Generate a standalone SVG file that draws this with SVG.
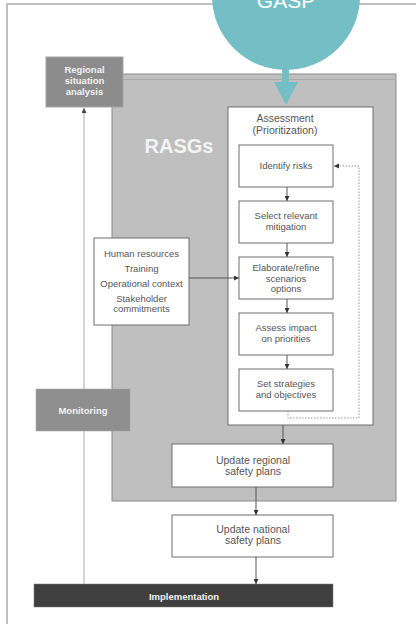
<svg xmlns="http://www.w3.org/2000/svg" width="416" height="624" viewBox="0 0 416 624">
<defs>
<marker id="ah" viewBox="0 0 10 10" refX="10" refY="5" markerWidth="5" markerHeight="5" orient="auto" markerUnits="userSpaceOnUse"><path d="M0,0 L10,5 L0,10 z" fill="#333"/></marker>
<marker id="ahg" viewBox="0 0 10 10" refX="10" refY="5" markerWidth="5" markerHeight="5" orient="auto" markerUnits="userSpaceOnUse"><path d="M0,0 L10,5 L0,10 z" fill="#444"/></marker>
</defs>
<style>
text{font-family:"Liberation Sans",Arial,sans-serif;text-anchor:middle}
.box{fill:#fff;stroke:#6e6e6e;stroke-width:1}
.t{font-size:9.5px;fill:#555}
.tl{font-size:10.5px;fill:#555}
.w{font-size:9.5px;fill:#f2f2f2;font-weight:bold}
.c{stroke:#555;stroke-width:1;fill:none}
.d{stroke:#999;stroke-width:1;fill:none;stroke-dasharray:1.5 1.5}
</style>
<rect width="416" height="624" fill="#fff"/>
<g id="frame"><path d="M7,624 V4 H416" fill="none" stroke="#aaa" stroke-width="1.5"/></g>
<g id="rasgs"><rect x="112" y="74" width="284" height="427" fill="#bfbfc0" stroke="#8a8a8a" stroke-width="1"/><line x1="123" y1="79.5" x2="396" y2="79.5" stroke="#a9a9aa" stroke-width="1"/><text x="179" y="153" font-size="20" font-weight="bold" fill="#f4f4f4">RASGs</text></g>
<g id="assessment"><rect class="box" x="228" y="107" width="145" height="318"/><text class="tl" x="285" y="122">Assessment</text><text class="tl" x="285" y="134">(Prioritization)</text></g>
<g id="feedback"><path class="d" d="M288,411 V418 H359 V166 H334"/><path d="M334,166 l5,-2.5 v5 z" fill="#333"/></g>
<g id="identify"><rect class="box" x="239" y="145" width="94" height="42"/><text class="t" x="286" y="169">Identify risks</text></g>
<g id="select"><rect class="box" x="239" y="201" width="94" height="42"/><text class="t" x="286" y="219">Select relevant</text><text class="t" x="286" y="229.5">mitigation</text></g>
<g id="elaborate"><rect class="box" x="239" y="257" width="94" height="42"/><text class="t" x="286" y="271">Elaborate/refine</text><text class="t" x="286" y="281.5">scenarios</text><text class="t" x="286" y="291.5">options</text></g>
<g id="assess"><rect class="box" x="239" y="313" width="94" height="42"/><text class="t" x="286" y="331">Assess impact</text><text class="t" x="286" y="341.5">on priorities</text></g>
<g id="strategies"><rect class="box" x="239" y="369" width="94" height="42"/><text class="t" x="286" y="387">Set strategies</text><text class="t" x="286" y="397.5">and objectives</text></g>
<g id="human"><rect class="box" x="94" y="238" width="95" height="87"/><text class="t" x="141.5" y="257">Human resources</text><text class="t" x="141.5" y="271.5">Training</text><text class="t" x="141.5" y="286.5">Operational context</text><text class="t" x="141.5" y="301.5">Stakeholder</text><text class="t" x="141.5" y="312">commitments</text></g>
<g id="regional"><rect x="46" y="57" width="77" height="50" fill="#8c8c8c" stroke="#a5a5a5" stroke-width="1"/><text class="w" x="84.5" y="72.5">Regional</text><text class="w" x="84.5" y="83.5">situation</text><text class="w" x="84.5" y="94.5">analysis</text></g>
<g id="monitoring"><rect x="36" y="389" width="94" height="42" fill="#8f8f8f" stroke="#a5a5a5" stroke-width="0.5"/><text class="w" x="83" y="413.5">Monitoring</text></g>
<g id="update-regional"><rect class="box" x="172" y="444" width="161" height="43"/><text class="tl" x="253" y="464">Update regional</text><text class="tl" x="253" y="475">safety plans</text></g>
<g id="update-national"><rect class="box" x="172" y="515" width="161" height="42"/><text class="tl" x="253" y="532.5">Update national</text><text class="tl" x="253" y="543.5">safety plans</text></g>
<g id="implementation"><rect x="34" y="584" width="299" height="23" fill="#3f3f3f" stroke="#777" stroke-width="0.5"/><text class="w" x="184" y="599.5" fill="#fff">Implementation</text></g>
<g id="connectors">
<line x1="84" y1="584" x2="84" y2="431" stroke="#aaa" stroke-width="1"/>
<line x1="84" y1="389" x2="84" y2="108" stroke="#aaa" stroke-width="1" marker-end="url(#ahg)"/>
<line class="c" x1="287" y1="187" x2="287" y2="201" marker-end="url(#ah)"/>
<line class="c" x1="287" y1="243" x2="287" y2="257" marker-end="url(#ah)"/>
<line class="c" x1="287" y1="299" x2="287" y2="313" marker-end="url(#ah)"/>
<line class="c" x1="287" y1="355" x2="287" y2="369" marker-end="url(#ah)"/>
<line class="c" x1="189" y1="278" x2="239" y2="278" marker-end="url(#ah)"/>
<line class="c" x1="283" y1="425" x2="283" y2="444" marker-end="url(#ah)"/>
<line class="c" x1="256" y1="487" x2="256" y2="515" marker-end="url(#ah)"/>
<line class="c" x1="256" y1="557" x2="256" y2="584" marker-end="url(#ah)"/>
</g>
<g id="gasp"><circle cx="286" cy="-4" r="74" fill="#73bfc5"/><rect x="282" y="69" width="7" height="14" fill="#73bfc5"/><path d="M274,82 L298,82 L286,105 z" fill="#73bfc5"/><text x="286" y="8" font-size="21" fill="#fff">GASP</text></g>
</svg>
